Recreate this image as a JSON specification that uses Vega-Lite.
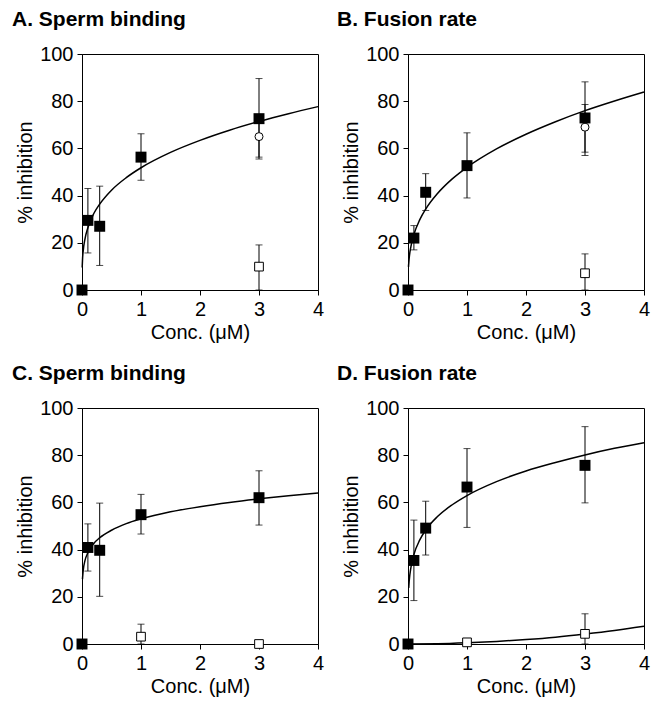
{
  "$schema": "https://vega.github.io/schema/vega-lite/v6.json",
  "background": "white",
  "padding": {"left": 11, "top": 8, "right": 5, "bottom": 5},
  "datasets": {
    "pts": [
      {"p": "A", "s": "filled", "x": 0, "y": 0},
      {"p": "A", "s": "filled", "x": 0.1, "y": 29.5, "lo": 15.7, "hi": 43},
      {"p": "A", "s": "filled", "x": 0.3, "y": 27, "lo": 10.4, "hi": 44},
      {"p": "A", "s": "filled", "x": 1, "y": 56.3, "lo": 46.5, "hi": 66.2},
      {"p": "A", "s": "filled", "x": 3, "y": 72.6, "lo": 55.5, "hi": 89.6},
      {"p": "A", "s": "circle", "x": 3, "y": 65, "lo": 56.3, "hi": 73.7},
      {"p": "A", "s": "open", "x": 3, "y": 9.9, "lo": 0, "hi": 19.1},
      {"p": "B", "s": "filled", "x": 0, "y": 0},
      {"p": "B", "s": "filled", "x": 0.1, "y": 22, "lo": 17, "hi": 27.3},
      {"p": "B", "s": "filled", "x": 0.3, "y": 41.4, "lo": 33.7, "hi": 49.3},
      {"p": "B", "s": "filled", "x": 1, "y": 52.7, "lo": 39, "hi": 66.6},
      {"p": "B", "s": "filled", "x": 3, "y": 72.9, "lo": 57, "hi": 88.2},
      {"p": "B", "s": "circle", "x": 3, "y": 69, "lo": 58.4, "hi": 78.6},
      {"p": "B", "s": "open", "x": 3, "y": 7.1, "lo": 0, "hi": 15.3},
      {"p": "C", "s": "filled", "x": 0, "y": 0},
      {"p": "C", "s": "filled", "x": 0.1, "y": 40.9, "lo": 30.9, "hi": 50.9},
      {"p": "C", "s": "filled", "x": 0.3, "y": 39.7, "lo": 20.2, "hi": 59.7},
      {"p": "C", "s": "filled", "x": 1, "y": 54.8, "lo": 46.6, "hi": 63.4},
      {"p": "C", "s": "filled", "x": 3, "y": 62, "lo": 50.4, "hi": 73.4},
      {"p": "C", "s": "open", "x": 1, "y": 3.1, "lo": 0, "hi": 8.4},
      {"p": "C", "s": "open", "x": 3, "y": 0},
      {"p": "D", "s": "filled", "x": 0, "y": 0},
      {"p": "D", "s": "filled", "x": 0.1, "y": 35.4, "lo": 18.4, "hi": 52.5},
      {"p": "D", "s": "filled", "x": 0.3, "y": 49.1, "lo": 37.7, "hi": 60.5},
      {"p": "D", "s": "filled", "x": 1, "y": 66.5, "lo": 49.4, "hi": 82.8},
      {"p": "D", "s": "filled", "x": 3, "y": 75.7, "lo": 59.8, "hi": 92.1},
      {"p": "D", "s": "open", "x": 1, "y": 0.7},
      {"p": "D", "s": "open", "x": 3, "y": 4.3, "lo": 0, "hi": 12.8}
    ],
    "curves": [
      {"p": "A", "c": "f", "x": 0.003, "y": 9.5},
      {"p": "A", "c": "f", "x": 0.01, "y": 13.5},
      {"p": "A", "c": "f", "x": 0.02, "y": 16.5},
      {"p": "A", "c": "f", "x": 0.05, "y": 21.6},
      {"p": "A", "c": "f", "x": 0.1, "y": 26.4},
      {"p": "A", "c": "f", "x": 0.2, "y": 32.4},
      {"p": "A", "c": "f", "x": 0.3, "y": 36.4},
      {"p": "A", "c": "f", "x": 0.5, "y": 42.3},
      {"p": "A", "c": "f", "x": 0.75, "y": 47.6},
      {"p": "A", "c": "f", "x": 1, "y": 51.8},
      {"p": "A", "c": "f", "x": 1.5, "y": 58.3},
      {"p": "A", "c": "f", "x": 2, "y": 63.4},
      {"p": "A", "c": "f", "x": 2.5, "y": 67.7},
      {"p": "A", "c": "f", "x": 3, "y": 71.4},
      {"p": "A", "c": "f", "x": 3.5, "y": 74.7},
      {"p": "A", "c": "f", "x": 4, "y": 77.7},
      {"p": "B", "c": "f", "x": 0.008, "y": 9.8},
      {"p": "B", "c": "f", "x": 0.02, "y": 13.5},
      {"p": "B", "c": "f", "x": 0.05, "y": 18.5},
      {"p": "B", "c": "f", "x": 0.1, "y": 23.5},
      {"p": "B", "c": "f", "x": 0.2, "y": 29.8},
      {"p": "B", "c": "f", "x": 0.3, "y": 34.3},
      {"p": "B", "c": "f", "x": 0.5, "y": 40.9},
      {"p": "B", "c": "f", "x": 0.75, "y": 47.1},
      {"p": "B", "c": "f", "x": 1, "y": 52},
      {"p": "B", "c": "f", "x": 1.5, "y": 59.8},
      {"p": "B", "c": "f", "x": 2, "y": 66},
      {"p": "B", "c": "f", "x": 2.5, "y": 71.3},
      {"p": "B", "c": "f", "x": 3, "y": 76},
      {"p": "B", "c": "f", "x": 3.5, "y": 80.1},
      {"p": "B", "c": "f", "x": 4, "y": 83.9},
      {"p": "C", "c": "f", "x": 0.008, "y": 27.5},
      {"p": "C", "c": "f", "x": 0.02, "y": 31.1},
      {"p": "C", "c": "f", "x": 0.05, "y": 35.3},
      {"p": "C", "c": "f", "x": 0.1, "y": 38.7},
      {"p": "C", "c": "f", "x": 0.2, "y": 42.6},
      {"p": "C", "c": "f", "x": 0.3, "y": 45},
      {"p": "C", "c": "f", "x": 0.5, "y": 48.2},
      {"p": "C", "c": "f", "x": 0.75, "y": 51},
      {"p": "C", "c": "f", "x": 1, "y": 53},
      {"p": "C", "c": "f", "x": 1.5, "y": 56},
      {"p": "C", "c": "f", "x": 2, "y": 58.2},
      {"p": "C", "c": "f", "x": 2.5, "y": 60},
      {"p": "C", "c": "f", "x": 3, "y": 61.5},
      {"p": "C", "c": "f", "x": 3.5, "y": 62.8},
      {"p": "C", "c": "f", "x": 4, "y": 64},
      {"p": "D", "c": "f", "x": 0.012, "y": 23.8},
      {"p": "D", "c": "f", "x": 0.02, "y": 26.6},
      {"p": "D", "c": "f", "x": 0.05, "y": 32.5},
      {"p": "D", "c": "f", "x": 0.1, "y": 37.9},
      {"p": "D", "c": "f", "x": 0.2, "y": 44.1},
      {"p": "D", "c": "f", "x": 0.3, "y": 48.3},
      {"p": "D", "c": "f", "x": 0.5, "y": 54},
      {"p": "D", "c": "f", "x": 0.75, "y": 59},
      {"p": "D", "c": "f", "x": 1, "y": 62.9},
      {"p": "D", "c": "f", "x": 1.5, "y": 68.8},
      {"p": "D", "c": "f", "x": 2, "y": 73.3},
      {"p": "D", "c": "f", "x": 2.5, "y": 76.9},
      {"p": "D", "c": "f", "x": 3, "y": 80.1},
      {"p": "D", "c": "f", "x": 3.5, "y": 82.9},
      {"p": "D", "c": "f", "x": 4, "y": 85.3},
      {"p": "D", "c": "o", "x": 0, "y": 0},
      {"p": "D", "c": "o", "x": 0.5, "y": 0.1},
      {"p": "D", "c": "o", "x": 1, "y": 0.5},
      {"p": "D", "c": "o", "x": 1.5, "y": 1.1},
      {"p": "D", "c": "o", "x": 2, "y": 1.9},
      {"p": "D", "c": "o", "x": 2.5, "y": 2.9},
      {"p": "D", "c": "o", "x": 3, "y": 4.2},
      {"p": "D", "c": "o", "x": 3.5, "y": 5.7},
      {"p": "D", "c": "o", "x": 4, "y": 7.5}
    ]
  },
  "columns": 2,
  "spacing": {"row": 118, "column": 90},
  "bounds": "flush",
  "concat": [
    {
      "width": 236, "height": 236,
      "title": {"text": "A. Sperm binding", "dx": -70},
      "layer": [
        {"data": {"name": "pts"}, "transform": [{"filter": "datum.p == 'A' && isValid(datum.hi)"}], "mark": {"type": "rule", "color": "black", "strokeWidth": 1},
         "encoding": {"x": {"field": "x", "type": "quantitative", "scale": {"domain": [0, 4]}, "axis": {"values": [0, 1, 2, 3, 4], "format": "d", "title": "Conc. (μM)", "labelFlush": false}},
                      "y": {"field": "lo", "type": "quantitative", "scale": {"domain": [0, 100]}, "axis": {"values": [0, 20, 40, 60, 80, 100], "format": "d", "title": "% inhibition", "labelFlush": false}},
                      "y2": {"field": "hi"}}},
        {"data": {"name": "pts"}, "transform": [{"filter": "datum.p == 'A' && isValid(datum.hi)"}], "mark": {"type": "tick", "orient": "horizontal", "color": "black", "size": 7, "thickness": 1},
         "encoding": {"x": {"field": "x", "type": "quantitative"}, "y": {"field": "hi", "type": "quantitative"}}},
        {"data": {"name": "pts"}, "transform": [{"filter": "datum.p == 'A' && isValid(datum.lo)"}], "mark": {"type": "tick", "orient": "horizontal", "color": "black", "size": 7, "thickness": 1},
         "encoding": {"x": {"field": "x", "type": "quantitative"}, "y": {"field": "lo", "type": "quantitative"}}},
        {"data": {"name": "curves"}, "transform": [{"filter": "datum.p == 'A'"}], "mark": {"type": "line", "color": "black", "strokeWidth": 1.5, "interpolate": "monotone"},
         "encoding": {"x": {"field": "x", "type": "quantitative"}, "y": {"field": "y", "type": "quantitative"}, "detail": {"field": "c"}}},
        {"data": {"name": "pts"}, "transform": [{"filter": "datum.p == 'A' && datum.s == 'filled'"}], "mark": {"type": "point", "shape": "square", "filled": true, "color": "black", "size": 120, "opacity": 1},
         "encoding": {"x": {"field": "x", "type": "quantitative"}, "y": {"field": "y", "type": "quantitative"}}},
        {"data": {"name": "pts"}, "transform": [{"filter": "datum.p == 'A' && datum.s == 'open'"}], "mark": {"type": "point", "shape": "square", "filled": true, "fill": "white", "stroke": "black", "strokeWidth": 1, "size": 76, "opacity": 1},
         "encoding": {"x": {"field": "x", "type": "quantitative"}, "y": {"field": "y", "type": "quantitative"}}},
        {"data": {"name": "pts"}, "transform": [{"filter": "datum.p == 'A' && datum.s == 'circle'"}], "mark": {"type": "point", "shape": "circle", "filled": true, "fill": "white", "stroke": "black", "strokeWidth": 1, "size": 64, "opacity": 1},
         "encoding": {"x": {"field": "x", "type": "quantitative"}, "y": {"field": "y", "type": "quantitative"}}}
      ]
    },
    {
      "width": 236, "height": 236,
      "title": {"text": "B. Fusion rate", "dx": -71},
      "layer": [
        {"data": {"name": "pts"}, "transform": [{"filter": "datum.p == 'B' && isValid(datum.hi)"}], "mark": {"type": "rule", "color": "black", "strokeWidth": 1},
         "encoding": {"x": {"field": "x", "type": "quantitative", "scale": {"domain": [0, 4]}, "axis": {"values": [0, 1, 2, 3, 4], "format": "d", "title": "Conc. (μM)", "labelFlush": false}},
                      "y": {"field": "lo", "type": "quantitative", "scale": {"domain": [0, 100]}, "axis": {"values": [0, 20, 40, 60, 80, 100], "format": "d", "title": "% inhibition", "labelFlush": false}},
                      "y2": {"field": "hi"}}},
        {"data": {"name": "pts"}, "transform": [{"filter": "datum.p == 'B' && isValid(datum.hi)"}], "mark": {"type": "tick", "orient": "horizontal", "color": "black", "size": 7, "thickness": 1},
         "encoding": {"x": {"field": "x", "type": "quantitative"}, "y": {"field": "hi", "type": "quantitative"}}},
        {"data": {"name": "pts"}, "transform": [{"filter": "datum.p == 'B' && isValid(datum.lo)"}], "mark": {"type": "tick", "orient": "horizontal", "color": "black", "size": 7, "thickness": 1},
         "encoding": {"x": {"field": "x", "type": "quantitative"}, "y": {"field": "lo", "type": "quantitative"}}},
        {"data": {"name": "curves"}, "transform": [{"filter": "datum.p == 'B'"}], "mark": {"type": "line", "color": "black", "strokeWidth": 1.5, "interpolate": "monotone"},
         "encoding": {"x": {"field": "x", "type": "quantitative"}, "y": {"field": "y", "type": "quantitative"}, "detail": {"field": "c"}}},
        {"data": {"name": "pts"}, "transform": [{"filter": "datum.p == 'B' && datum.s == 'filled'"}], "mark": {"type": "point", "shape": "square", "filled": true, "color": "black", "size": 120, "opacity": 1},
         "encoding": {"x": {"field": "x", "type": "quantitative"}, "y": {"field": "y", "type": "quantitative"}}},
        {"data": {"name": "pts"}, "transform": [{"filter": "datum.p == 'B' && datum.s == 'open'"}], "mark": {"type": "point", "shape": "square", "filled": true, "fill": "white", "stroke": "black", "strokeWidth": 1, "size": 76, "opacity": 1},
         "encoding": {"x": {"field": "x", "type": "quantitative"}, "y": {"field": "y", "type": "quantitative"}}},
        {"data": {"name": "pts"}, "transform": [{"filter": "datum.p == 'B' && datum.s == 'circle'"}], "mark": {"type": "point", "shape": "circle", "filled": true, "fill": "white", "stroke": "black", "strokeWidth": 1, "size": 64, "opacity": 1},
         "encoding": {"x": {"field": "x", "type": "quantitative"}, "y": {"field": "y", "type": "quantitative"}}}
      ]
    },
    {
      "width": 236, "height": 236,
      "title": {"text": "C. Sperm binding", "dx": -70},
      "layer": [
        {"data": {"name": "pts"}, "transform": [{"filter": "datum.p == 'C' && isValid(datum.hi)"}], "mark": {"type": "rule", "color": "black", "strokeWidth": 1},
         "encoding": {"x": {"field": "x", "type": "quantitative", "scale": {"domain": [0, 4]}, "axis": {"values": [0, 1, 2, 3, 4], "format": "d", "title": "Conc. (μM)", "labelFlush": false}},
                      "y": {"field": "lo", "type": "quantitative", "scale": {"domain": [0, 100]}, "axis": {"values": [0, 20, 40, 60, 80, 100], "format": "d", "title": "% inhibition", "labelFlush": false}},
                      "y2": {"field": "hi"}}},
        {"data": {"name": "pts"}, "transform": [{"filter": "datum.p == 'C' && isValid(datum.hi)"}], "mark": {"type": "tick", "orient": "horizontal", "color": "black", "size": 7, "thickness": 1},
         "encoding": {"x": {"field": "x", "type": "quantitative"}, "y": {"field": "hi", "type": "quantitative"}}},
        {"data": {"name": "pts"}, "transform": [{"filter": "datum.p == 'C' && isValid(datum.lo)"}], "mark": {"type": "tick", "orient": "horizontal", "color": "black", "size": 7, "thickness": 1},
         "encoding": {"x": {"field": "x", "type": "quantitative"}, "y": {"field": "lo", "type": "quantitative"}}},
        {"data": {"name": "curves"}, "transform": [{"filter": "datum.p == 'C'"}], "mark": {"type": "line", "color": "black", "strokeWidth": 1.5, "interpolate": "monotone"},
         "encoding": {"x": {"field": "x", "type": "quantitative"}, "y": {"field": "y", "type": "quantitative"}, "detail": {"field": "c"}}},
        {"data": {"name": "pts"}, "transform": [{"filter": "datum.p == 'C' && datum.s == 'filled'"}], "mark": {"type": "point", "shape": "square", "filled": true, "color": "black", "size": 120, "opacity": 1},
         "encoding": {"x": {"field": "x", "type": "quantitative"}, "y": {"field": "y", "type": "quantitative"}}},
        {"data": {"name": "pts"}, "transform": [{"filter": "datum.p == 'C' && datum.s == 'open'"}], "mark": {"type": "point", "shape": "square", "filled": true, "fill": "white", "stroke": "black", "strokeWidth": 1, "size": 76, "opacity": 1},
         "encoding": {"x": {"field": "x", "type": "quantitative"}, "y": {"field": "y", "type": "quantitative"}}}
      ]
    },
    {
      "width": 236, "height": 236,
      "title": {"text": "D. Fusion rate", "dx": -71},
      "layer": [
        {"data": {"name": "pts"}, "transform": [{"filter": "datum.p == 'D' && isValid(datum.hi)"}], "mark": {"type": "rule", "color": "black", "strokeWidth": 1},
         "encoding": {"x": {"field": "x", "type": "quantitative", "scale": {"domain": [0, 4]}, "axis": {"values": [0, 1, 2, 3, 4], "format": "d", "title": "Conc. (μM)", "labelFlush": false}},
                      "y": {"field": "lo", "type": "quantitative", "scale": {"domain": [0, 100]}, "axis": {"values": [0, 20, 40, 60, 80, 100], "format": "d", "title": "% inhibition", "labelFlush": false}},
                      "y2": {"field": "hi"}}},
        {"data": {"name": "pts"}, "transform": [{"filter": "datum.p == 'D' && isValid(datum.hi)"}], "mark": {"type": "tick", "orient": "horizontal", "color": "black", "size": 7, "thickness": 1},
         "encoding": {"x": {"field": "x", "type": "quantitative"}, "y": {"field": "hi", "type": "quantitative"}}},
        {"data": {"name": "pts"}, "transform": [{"filter": "datum.p == 'D' && isValid(datum.lo)"}], "mark": {"type": "tick", "orient": "horizontal", "color": "black", "size": 7, "thickness": 1},
         "encoding": {"x": {"field": "x", "type": "quantitative"}, "y": {"field": "lo", "type": "quantitative"}}},
        {"data": {"name": "curves"}, "transform": [{"filter": "datum.p == 'D'"}], "mark": {"type": "line", "color": "black", "strokeWidth": 1.5, "interpolate": "monotone"},
         "encoding": {"x": {"field": "x", "type": "quantitative"}, "y": {"field": "y", "type": "quantitative"}, "detail": {"field": "c"}}},
        {"data": {"name": "pts"}, "transform": [{"filter": "datum.p == 'D' && datum.s == 'filled'"}], "mark": {"type": "point", "shape": "square", "filled": true, "color": "black", "size": 120, "opacity": 1},
         "encoding": {"x": {"field": "x", "type": "quantitative"}, "y": {"field": "y", "type": "quantitative"}}},
        {"data": {"name": "pts"}, "transform": [{"filter": "datum.p == 'D' && datum.s == 'open'"}], "mark": {"type": "point", "shape": "square", "filled": true, "fill": "white", "stroke": "black", "strokeWidth": 1, "size": 76, "opacity": 1},
         "encoding": {"x": {"field": "x", "type": "quantitative"}, "y": {"field": "y", "type": "quantitative"}}}
      ]
    }
  ],
  "config": {
    "view": {"stroke": "black", "strokeWidth": 1},
    "font": "Liberation Sans",
    "axis": {"grid": false, "domainColor": "black", "tickColor": "black", "labelColor": "black", "titleColor": "black", "labelFont": "Liberation Sans", "titleFont": "Liberation Sans", "labelFontSize": 20, "titleFontSize": 20, "titleFontWeight": "normal", "tickSize": 5, "labelPadding": 4},
    "axisY": {"titlePadding": 4},
    "axisX": {"titlePadding": 3},
    "title": {"font": "Liberation Sans", "fontSize": 21, "fontWeight": "bold", "color": "black", "anchor": "start", "frame": "group", "offset": 14}
  }
}
